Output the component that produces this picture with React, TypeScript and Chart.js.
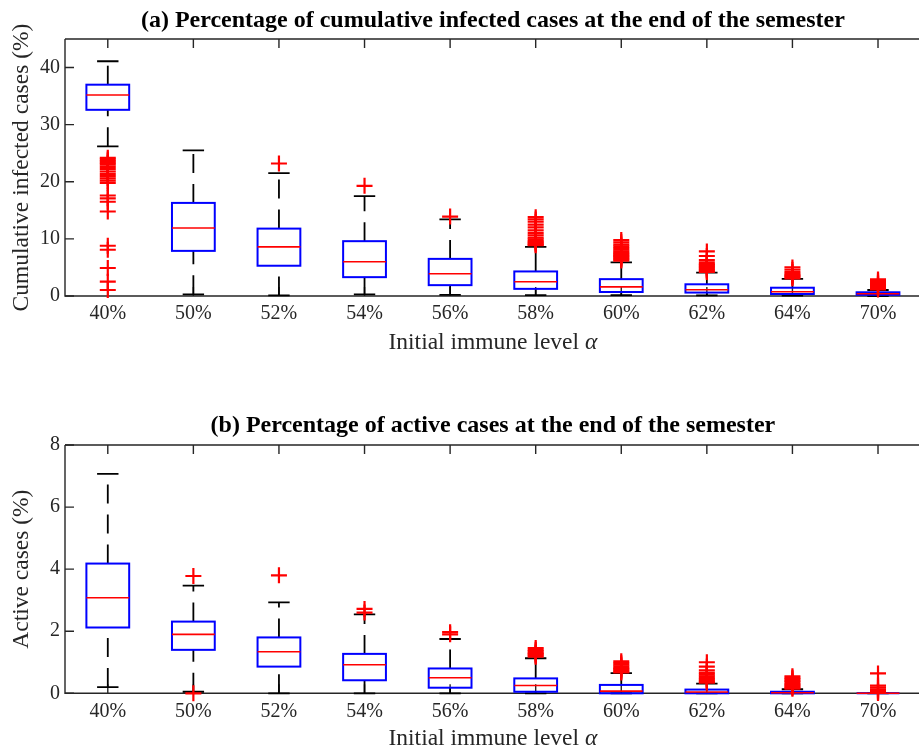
import React, { useEffect, useRef } from 'react';
import { Chart, registerables } from 'chart.js';

Chart.register(...registerables);

const categories = ['40%', '50%', '52%', '54%', '56%', '58%', '60%', '62%', '64%', '70%'];

// (a) cumulative infected cases (%)
const cumLow = [26.2, 0.3, 0.1, 0.3, 0.2, 0.15, 0.15, 0.1, 0.05, 0];
const cumQ1 = [32.6, 7.9, 5.3, 3.3, 1.9, 1.25, 0.7, 0.6, 0.35, 0.2];
const cumMedian = [35.2, 11.9, 8.6, 6.0, 3.9, 2.5, 1.6, 1.1, 0.75, 0.4];
const cumQ3 = [37.0, 16.3, 11.8, 9.6, 6.5, 4.3, 2.95, 2.05, 1.45, 0.65];
const cumHigh = [41.1, 25.5, 21.5, 17.5, 13.4, 8.6, 5.9, 4.1, 3.0, 1.05];
const cumOutliers = [
  [24.2, 23.9, 23.6, 23.3, 23.0, 22.6, 22.2, 21.8, 21.4, 21.0, 20.6, 20.2, 19.8, 17.6, 17.1, 16.5, 14.8, 8.8, 8.1, 4.9, 2.5, 1.05],
  [],
  [23.2],
  [19.3],
  [13.9],
  [13.8, 13.4, 13.0, 12.5, 12.0, 11.5, 11.0, 10.6, 10.2, 9.9, 9.6, 9.4, 9.2, 9.0, 8.9],
  [9.8, 9.4, 9.0, 8.7, 8.4, 8.1, 7.8, 7.6, 7.4, 7.2, 7.0, 6.8, 6.6, 6.4, 6.2],
  [7.8, 7.0, 6.3, 5.9, 5.6, 5.4, 5.2, 5.0, 4.8, 4.6, 4.4, 4.2],
  [5.0, 4.6, 4.2, 3.9, 3.7, 3.5, 3.3, 3.1],
  [2.9, 2.6, 2.3, 2.1, 1.9, 1.7, 1.5, 1.3, 1.15],
];
const cumTicks = [0, 10, 20, 30, 40];

// (b) active cases (%)
const actLow = [0.2, 0.05, 0, 0, 0, 0, 0, 0, 0, 0];
const actQ1 = [2.12, 1.4, 0.86, 0.42, 0.18, 0.05, 0, 0, 0, 0];
const actMedian = [3.08, 1.9, 1.34, 0.92, 0.5, 0.25, 0.07, 0.04, 0.02, 0];
const actQ3 = [4.18, 2.31, 1.8, 1.27, 0.8, 0.48, 0.27, 0.12, 0.05, 0];
const actHigh = [7.07, 3.47, 2.93, 2.54, 1.75, 1.13, 0.65, 0.31, 0.13, 0];
const actOutliers = [
  [],
  [3.78, 0],
  [3.8],
  [2.72, 2.6],
  [1.97, 1.9],
  [1.46, 1.4, 1.35, 1.3, 1.26, 1.22, 1.18],
  [1.03, 0.97, 0.92, 0.87, 0.82, 0.78, 0.74, 0.7, 0.67],
  [1.0, 0.86, 0.74, 0.66, 0.6, 0.55, 0.5, 0.45, 0.41, 0.37, 0.34],
  [0.55, 0.5, 0.45, 0.4, 0.35, 0.3, 0.26, 0.22, 0.18, 0.15],
  [0.64, 0.25, 0.18, 0.12, 0.08, 0.04, 0.01],
];
const actTicks = [0, 2, 4, 6, 8];

const SERIF = '"Liberation Serif", "Times New Roman", serif';
const AXIS_COLOR = '#262626';

type Stats = { lo: number[]; q1: number[]; med: number[]; q3: number[]; hi: number[] };

function makeBoxPlugin(stats: Stats, xTitleOffset: number) {
  return {
    id: 'boxes',
    beforeDatasetsDraw(chart: any) {
      const { ctx, chartArea, scales } = chart;
      const x = scales.x;
      const y = scales.y;
      ctx.save();
      // spines
      ctx.strokeStyle = AXIS_COLOR;
      ctx.lineWidth = 1.4;
      ctx.setLineDash([]);
      ctx.beginPath();
      ctx.moveTo(chartArea.left, chartArea.top);
      ctx.lineTo(chartArea.right, chartArea.top);
      ctx.moveTo(chartArea.left, chartArea.top);
      ctx.lineTo(chartArea.left, chartArea.bottom);
      ctx.lineTo(chartArea.right, chartArea.bottom);
      ctx.stroke();
      // inward ticks
      ctx.beginPath();
      categories.forEach((_, i) => {
        const px = x.getPixelForValue(i + 1);
        ctx.moveTo(px, chartArea.top);
        ctx.lineTo(px, chartArea.top + 9);
        ctx.moveTo(px, chartArea.bottom);
        ctx.lineTo(px, chartArea.bottom - 9);
      });
      y.ticks.forEach((t: any) => {
        const py = y.getPixelForValue(t.value);
        ctx.moveTo(chartArea.left, py);
        ctx.lineTo(chartArea.left + 9, py);
      });
      ctx.stroke();

      categories.forEach((_, i) => {
        const cx = x.getPixelForValue(i + 1);
        const hw = x.getPixelForValue(i + 1.25) - cx;
        const cw = hw / 2;
        const pLo = y.getPixelForValue(stats.lo[i]);
        const pQ1 = y.getPixelForValue(stats.q1[i]);
        const pMed = y.getPixelForValue(stats.med[i]);
        const pQ3 = y.getPixelForValue(stats.q3[i]);
        const pHi = y.getPixelForValue(stats.hi[i]);
        // whiskers
        ctx.strokeStyle = '#000000';
        ctx.lineWidth = 1.8;
        ctx.setLineDash([19, 11]);
        ctx.beginPath();
        ctx.moveTo(cx, pQ3);
        ctx.lineTo(cx, pHi);
        ctx.stroke();
        ctx.beginPath();
        ctx.moveTo(cx, pLo);
        ctx.lineTo(cx, pQ1);
        ctx.stroke();
        ctx.setLineDash([]);
        ctx.beginPath();
        ctx.moveTo(cx - cw, pHi);
        ctx.lineTo(cx + cw, pHi);
        ctx.moveTo(cx - cw, pLo);
        ctx.lineTo(cx + cw, pLo);
        ctx.stroke();
        // box
        ctx.strokeStyle = '#0000ff';
        ctx.lineWidth = 2;
        ctx.strokeRect(cx - hw, pQ3, 2 * hw, pQ1 - pQ3);
        // median
        ctx.strokeStyle = '#ff0000';
        ctx.lineWidth = 1.6;
        ctx.beginPath();
        ctx.moveTo(cx - hw, pMed);
        ctx.lineTo(cx + hw, pMed);
        ctx.stroke();
      });
      ctx.restore();
    },
    afterDraw(chart: any) {
      const { ctx, chartArea } = chart;
      ctx.save();
      const main = 'Initial immune level ';
      const greek = 'α';
      const fMain = `23.5px ${SERIF}`;
      const fGreek = `italic 23.5px ${SERIF}`;
      ctx.font = fMain;
      const w1 = ctx.measureText(main).width;
      ctx.font = fGreek;
      const w2 = ctx.measureText(greek).width;
      const cx = (chartArea.left + chartArea.right) / 2;
      const startX = cx - (w1 + w2) / 2;
      const baseY = chartArea.bottom + xTitleOffset;
      ctx.fillStyle = AXIS_COLOR;
      ctx.textBaseline = 'alphabetic';
      ctx.textAlign = 'left';
      ctx.font = fMain;
      ctx.fillText(main, startX, baseY);
      ctx.font = fGreek;
      ctx.fillText(greek, startX + w1, baseY);
      ctx.restore();
    },
  };
}

function buildConfig(opts: {
  title: string;
  yTitle: string;
  yMax: number;
  yTicks: number[];
  outliers: number[][];
  stats: Stats;
  titlePad: { top: number; bottom: number };
  xHeight: number;
  xTitleOffset: number;
}) {
  const points: { x: number; y: number }[] = [];
  opts.outliers.forEach((arr, i) => arr.forEach((v) => points.push({ x: i + 1, y: v })));
  return {
    type: 'scatter' as const,
    data: {
      datasets: [
        {
          data: points,
          pointStyle: 'cross',
          pointRadius: 8,
          pointHoverRadius: 8,
          pointBorderColor: '#ff0000',
          pointBackgroundColor: '#ff0000',
          pointBorderWidth: 2.2,
          clip: false as any,
        },
      ],
    },
    options: {
      animation: false as const,
      responsive: false,
      maintainAspectRatio: false,
      devicePixelRatio: 1,
      events: [],
      layout: { padding: 0 },
      plugins: {
        legend: { display: false },
        tooltip: { enabled: false },
        title: {
          display: true,
          text: opts.title,
          fullSize: false,
          color: '#000000',
          font: { family: SERIF, size: 24, weight: 'bold' as const, lineHeight: 1.2 },
          padding: opts.titlePad,
        },
      },
      scales: {
        x: {
          type: 'linear' as const,
          min: 0.5,
          max: 10.5,
          afterBuildTicks: (s: any) => {
            s.ticks = categories.map((_, i) => ({ value: i + 1 }));
          },
          afterFit: (s: any) => {
            s.height = opts.xHeight;
          },
          ticks: {
            autoSkip: false,
            maxRotation: 0,
            padding: 6,
            color: AXIS_COLOR,
            font: { family: SERIF, size: 20, lineHeight: 1.2 },
            callback: (v: any) => categories[Math.round(v) - 1] ?? '',
          },
          grid: { display: false, drawTicks: false },
          border: { display: false },
        },
        y: {
          type: 'linear' as const,
          min: 0,
          max: opts.yMax,
          afterBuildTicks: (s: any) => {
            s.ticks = opts.yTicks.map((v) => ({ value: v }));
          },
          afterFit: (s: any) => {
            s.width = 65;
          },
          ticks: {
            padding: 5,
            color: AXIS_COLOR,
            font: { family: SERIF, size: 20, lineHeight: 1.2 },
            callback: (v: any) => String(v),
          },
          grid: { display: false, drawTicks: false },
          border: { display: false },
          title: {
            display: true,
            text: opts.yTitle,
            color: AXIS_COLOR,
            font: { family: SERIF, size: 23.5, lineHeight: 1.2 },
            padding: { top: 7.5, bottom: 0 },
          },
        },
      },
    },
    plugins: [makeBoxPlugin(opts.stats, opts.xTitleOffset)],
  };
}

export default function App() {
  const topRef = useRef<HTMLCanvasElement | null>(null);
  const botRef = useRef<HTMLCanvasElement | null>(null);

  useEffect(() => {
    if (!topRef.current || !botRef.current) return;
    const c1 = new Chart(
      topRef.current,
      buildConfig({
        title: '(a) Percentage of cumulative infected cases at the end of the semester',
        yTitle: 'Cumulative infected cases (%)',
        yMax: 45,
        yTicks: cumTicks,
        outliers: cumOutliers,
        stats: { lo: cumLow, q1: cumQ1, med: cumMedian, q3: cumQ3, hi: cumHigh },
        titlePad: { top: 6.0, bottom: 4.2 },
        xHeight: 74,
        xTitleOffset: 53,
      }) as any
    );
    const c2 = new Chart(
      botRef.current,
      buildConfig({
        title: '(b) Percentage of active cases at the end of the semester',
        yTitle: 'Active cases (%)',
        yMax: 8,
        yTicks: actTicks,
        outliers: actOutliers,
        stats: { lo: actLow, q1: actQ1, med: actMedian, q3: actQ3, hi: actHigh },
        titlePad: { top: 41.0, bottom: 5.2 },
        xHeight: 54.7,
        xTitleOffset: 51.7,
      }) as any
    );
    return () => {
      c1.destroy();
      c2.destroy();
    };
  }, []);

  return (
    <div
      style={{
        position: 'absolute',
        left: 0,
        top: 0,
        width: 919,
        height: 748,
        overflow: 'hidden',
        background: '#ffffff',
      }}
    >
      <canvas ref={topRef} width={931} height={370} style={{ position: 'absolute', left: 0, top: 0, display: 'block' }} />
      <canvas ref={botRef} width={931} height={378} style={{ position: 'absolute', left: 0, top: 370, display: 'block' }} />
    </div>
  );
}
